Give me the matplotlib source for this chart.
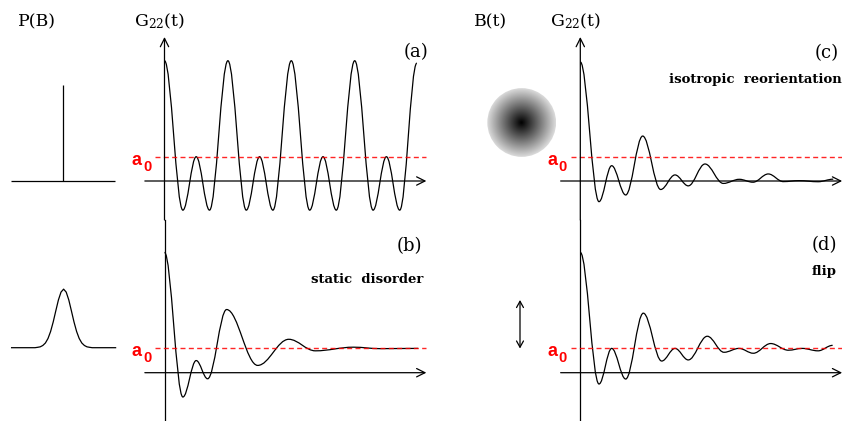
import matplotlib
matplotlib.use("Agg")
import matplotlib.pyplot as plt
from matplotlib.path import Path
from matplotlib.patches import PathPatch, Circle
from matplotlib.patches import ArrowStyle
import numpy as np

# ---------------- data ----------------
A0 = 0.2  # long-time plateau a0

# (a) single static field: extrema of G22(t)
T_A = [0.0, 0.29, 0.5, 0.71, 1.0, 1.29, 1.5, 1.71, 2.0, 2.29, 2.5, 2.71, 3.0, 3.29, 3.5, 3.71, 3.98]
G_A = [0.99, -0.24, 0.2, -0.24, 0.99, -0.24, 0.2, -0.24, 0.99, -0.24, 0.2, -0.24, 0.99, -0.24, 0.2, -0.24, 0.97]

# (b) static disorder
T_B = [0.0, 0.29, 0.5, 0.68, 0.98, 1.47, 1.96, 2.38, 2.98, 3.4, 4.0]
G_B = [0.99, -0.2, 0.1, -0.05, 0.52, 0.06, 0.275, 0.18, 0.21, 0.198, 0.2]

# (c) isotropic reorientation
T_C = [0.0, 0.295, 0.495, 0.716, 0.984, 1.268, 1.494, 1.703, 1.967, 2.256, 2.508, 2.724, 2.965, 3.202, 3.45, 3.75, 3.99]
G_C = [0.98, -0.17, 0.126, -0.115, 0.37, -0.07, 0.05, -0.04, 0.14, -0.02, 0.014, -0.01, 0.058, -0.005, 0.003, -0.006, 0.015]

# (d) flip
T_D = [0.0, 0.295, 0.495, 0.716, 0.994, 1.284, 1.494, 1.703, 2.003, 2.267, 2.503, 2.729, 3.003, 3.281, 3.5, 3.75, 3.98]
G_D = [0.99, -0.093, 0.2, -0.052, 0.49, 0.096, 0.2, 0.105, 0.30, 0.168, 0.2, 0.16, 0.24, 0.185, 0.2, 0.18, 0.225]

# P(B): delta distribution (a) and Gaussian distribution (b)
B_SPIKE, P_SPIKE = 0.0, 1.0
B_GAUSS = [-1.0, -0.55, -0.5, -0.45, -0.4, -0.35, -0.3, -0.25, -0.2, -0.15, -0.1, -0.05, 0.0,
           0.05, 0.1, 0.15, 0.2, 0.25, 0.3, 0.35, 0.4, 0.45, 0.5, 0.55, 1.0]
P_GAUSS = [0.0, 0.0, 0.004, 0.009, 0.023, 0.049, 0.096, 0.169, 0.268, 0.384, 0.497, 0.579, 0.61,
           0.579, 0.497, 0.384, 0.268, 0.169, 0.096, 0.049, 0.023, 0.009, 0.004, 0.0, 0.0]

PANEL_TAGS = ["(a)", "(b)", "(c)", "(d)"]
PANEL_NOTES = ["", "static  disorder", "isotropic  reorientation", "flip"]

# ---------------- layout helpers ----------------
W, H = 842, 421
plt.rcParams["mathtext.fontset"] = "dejavuserif"
fig = plt.figure(figsize=(W / 100, H / 100), dpi=100)

PX_T = 63.4    # pixels per time unit
PX_G = 121.5   # pixels per G unit
LW = 0.9
RED = "#ff0000"


def fx(x):
    return x / W


def fy(y):
    return 1 - y / H


def px_axes(x_org, y_org, sx, sy, left, right, top, bottom):
    ax = fig.add_axes([left / W, 1 - bottom / H, (right - left) / W, (bottom - top) / H])
    ax.set_xlim((left - x_org) / sx, (right - x_org) / sx)
    ax.set_ylim((y_org - bottom) / sy, (y_org - top) / sy)
    ax.set_axis_off()
    ax.patch.set_visible(False)
    return ax


def smooth_path(t, g, k=0.3634):
    verts = [(t[0], g[0])]
    codes = [Path.MOVETO]
    for i in range(len(t) - 1):
        d = (t[i + 1] - t[i]) * k
        verts += [(t[i] + d, g[i]), (t[i + 1] - d, g[i + 1]), (t[i + 1], g[i + 1])]
        codes += [Path.CURVE4] * 3
    return Path(verts, codes)


ARROW = ArrowStyle("->", head_length=0.6, head_width=0.3)


def g_panel(ax, t, g, top_arrow):
    ylo, yhi = ax.get_ylim()
    # y axis
    if top_arrow:
        ax.annotate("", xy=(0, (181 - 37) / PX_G), xytext=(0, ylo),
                    arrowprops=dict(arrowstyle=ARROW, lw=LW, color="black",
                                    shrinkA=0, shrinkB=0, mutation_scale=10))
    else:
        ax.plot([0, 0], [ylo, yhi], color="black", lw=LW, clip_on=False)
    # x axis
    ax.annotate("", xy=(4.13, 0), xytext=(-0.31, 0),
                arrowprops=dict(arrowstyle=ARROW, lw=LW, color="black",
                                shrinkA=0, shrinkB=0, mutation_scale=10))
    # a0 line
    ax.plot([-0.15, 4.12], [A0, A0], color=RED, lw=1.0, dashes=(3.6, 2.4), alpha=0.85)
    ax.annotate("a", xy=(0, A0), xytext=(-33, -8), textcoords="offset pixels",
                color=RED, fontsize=13, fontweight="bold", family="Liberation Sans",
                ha="left", va="baseline")
    ax.annotate("0", xy=(0, A0), xytext=(-21.5, -14), textcoords="offset pixels",
                color=RED, fontsize=10.5, fontweight="bold", family="Liberation Sans",
                ha="left", va="baseline")
    # curve
    ax.add_patch(PathPatch(smooth_path(t, g), fill=False, lw=LW, ec="black"))


ax_a = px_axes(164.5, 181, PX_T, PX_G, 112, 432, 28, 220)
ax_b = px_axes(164.5, 372.7, PX_T, PX_G, 112, 432, 220, 421)
ax_c = px_axes(580.3, 181, PX_T, PX_G, 528, 842, 28, 220)
ax_d = px_axes(580.3, 372.7, PX_T, PX_G, 528, 842, 220, 421)

g_panel(ax_a, T_A, G_A, True)
g_panel(ax_b, T_B, G_B, False)
g_panel(ax_c, T_C, G_C, True)
g_panel(ax_d, T_D, G_D, False)

# ---------------- P(B) side panels ----------------
ax_pa = px_axes(63.3, 181, 52, 96, 0, 128, 28, 220)
ax_pa.hlines(0, -1, 1, color="black", lw=LW)
ax_pa.vlines(B_SPIKE, 0, P_SPIKE, color="black", lw=LW)

ax_pb = px_axes(63.6, 347.7, 52, 96, 0, 128, 220, 421)
ax_pb.plot(B_GAUSS, P_GAUSS, color="black", lw=LW)

# ---------------- B(t) side: isotropic disk and flip arrow ----------------
cx, cy, r = 521.7, 122.5, 34.4
ax_disk = fig.add_axes([(cx - r) / W, 1 - (cy + r) / H, 2 * r / W, 2 * r / H])
ax_disk.set_xlim(-1, 1)
ax_disk.set_ylim(-1, 1)
ax_disk.set_axis_off()
ax_disk.patch.set_visible(False)
gx, gy = np.meshgrid(np.linspace(-1, 1, 300), np.linspace(-1, 1, 300))
shade = 0.86 * np.sqrt(gx ** 2 + gy ** 2)
im = ax_disk.imshow(shade, extent=(-1, 1, -1, 1), cmap="gray", vmin=0, vmax=1,
                    aspect="auto", interpolation="bilinear")
im.set_clip_path(Circle((0, 0), 1.0, transform=ax_disk.transData))

ax_d.annotate("", xy=(fx(520), fy(300)), xytext=(fx(520), fy(348.5)),
              xycoords="figure fraction", textcoords="figure fraction",
              arrowprops=dict(arrowstyle=ArrowStyle("<->", head_length=0.45, head_width=0.25),
                              lw=LW, color="black", shrinkA=0, shrinkB=0, mutation_scale=10),
              annotation_clip=False)

# ---------------- texts ----------------
SERIF = "DejaVu Serif"
fig.text(fx(37), fy(26), "P(B)", ha="center", va="baseline", fontsize=12.5, family=SERIF)
fig.text(fx(160), fy(26), r"$\mathrm{G}_{22}\mathrm{(t)}$", ha="center", va="baseline", fontsize=12.5)
fig.text(fx(491), fy(26), "B(t)", ha="center", va="baseline", fontsize=12.5, family=SERIF)
fig.text(fx(576), fy(26), r"$\mathrm{G}_{22}\mathrm{(t)}$", ha="center", va="baseline", fontsize=12.5)

tag_pos = [(428, 52), (422, 246), (838.3, 53), (836.7, 245)]
note_pos = [(0, 0), (423.3, 283.3), (841.5, 83.3), (836.7, 275)]
for tag, (x, y) in zip(PANEL_TAGS, tag_pos):
    fig.text(fx(x), fy(y), tag, ha="right", va="center", fontsize=13, family=SERIF)
for note, (x, y) in zip(PANEL_NOTES, note_pos):
    if note:
        fig.text(fx(x), fy(y), note, ha="right", va="baseline", fontsize=9.5,
                 family=SERIF, fontweight="bold")

fig.savefig("out.png", dpi=100)
